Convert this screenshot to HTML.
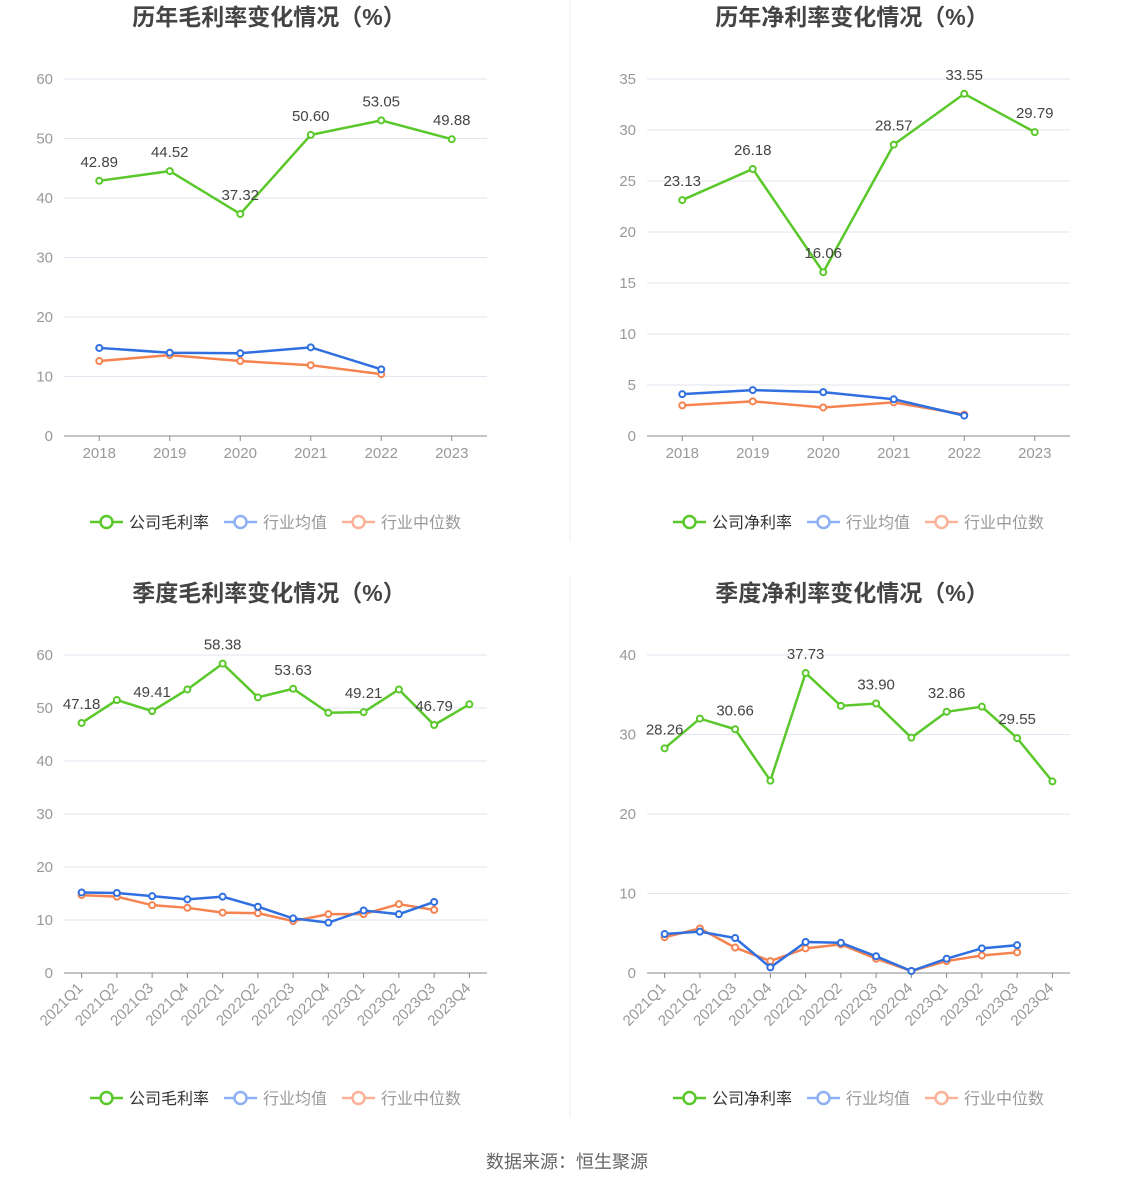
<!DOCTYPE html>
<html><head><meta charset="utf-8"><style>
body{margin:0;background:#fff;font-family:"Liberation Sans","Noto Sans CJK SC",sans-serif;}
svg text{font-family:"Liberation Sans","Noto Sans CJK SC",sans-serif;}
</style></head><body>
<svg id="s" width="1134" height="1188" xmlns="http://www.w3.org/2000/svg">
<line x1="570" y1="0" x2="570" y2="542" stroke="#eee"/>
<line x1="570" y1="575" x2="570" y2="1118" stroke="#eee"/>
<text x="567" y="1168" text-anchor="middle" font-size="18" fill="#666">数据来源：恒生聚源</text>
</svg>
<script>
const yearCats=["2018","2019","2020","2021","2022","2023"];
const qCats=["2021Q1","2021Q2","2021Q3","2021Q4","2022Q1","2022Q2","2022Q3","2022Q4","2023Q1","2023Q2","2023Q3","2023Q4"];
const annGrossCo=[42.89,44.52,37.32,50.60,53.05,49.88];
const annGrossAvg=[14.8,14.0,13.9,14.9,11.2];
const annGrossMed=[12.6,13.6,12.6,11.9,10.4];
const annNetCo=[23.13,26.18,16.06,28.57,33.55,29.79];
const annNetAvg=[4.1,4.5,4.3,3.6,2.0];
const annNetMed=[3.0,3.4,2.8,3.3,2.1];
const qGrossCo=[47.18,51.5,49.41,53.5,58.38,52.0,53.63,49.1,49.21,53.5,46.79,50.7];
const qGrossLabels=[true,false,true,false,true,false,true,false,true,false,true,false];
const qGrossAvg=[15.2,15.1,14.5,13.9,14.4,12.5,10.3,9.5,11.8,11.1,13.4];
const qGrossMed=[14.7,14.4,12.8,12.3,11.4,11.3,9.8,11.1,11.1,13.0,11.9];
const qNetCo=[28.26,32.0,30.66,24.2,37.73,33.6,33.90,29.6,32.86,33.5,29.55,24.1];
const qNetLabels=[true,false,true,false,true,false,true,false,true,false,true,false];
const qNetAvg=[4.9,5.2,4.4,0.7,3.9,3.8,2.1,0.25,1.8,3.1,3.5];
const qNetMed=[4.5,5.6,3.2,1.5,3.1,3.6,1.8,0.25,1.5,2.2,2.6];
const ticksGross=[0,10,20,30,40,50,60];
const ticksNetA=[0,5,10,15,20,25,30,35];
const ticksNetQ=[0,10,20,30,40];

const S=document.getElementById('s');const NS='http://www.w3.org/2000/svg';
function mk(t,a,p){const e=document.createElementNS(NS,t);for(const k in a)e.setAttribute(k,a[k]);(p||S).appendChild(e);return e;}
function chart(o){
 const g=mk('g',{});
 
 
 const x0=o.x0,x1=o.x0+423,yb=o.yb,yt=o.yb-357*(o.h||1);
 const ymax=o.ticks[o.ticks.length-1];
 const Y=v=>yb-(v/ymax)*(yb-yt);
 const bw=(x1-x0)/o.cats.length;const X=i=>x0+bw*(i+0.5);
 const t=mk('text',{x:x0+205,y:o.ty,'text-anchor':'middle','font-size':23,'font-weight':'bold',fill:'#444'},g);t.textContent=o.title;
 
 
 o.ticks.forEach(v=>{
  if(v>0){const l=mk('line',{x1:x0,x2:x1,y1:Y(v),y2:Y(v),stroke:'#e3e6f0'},g);
  
  }
  const tt=mk('text',{x:x0-11,y:Y(v)+5,'text-anchor':'end','font-size':15,fill:'#999'},g);tt.textContent=v;
  
  
 });
 const ax=mk('line',{x1:x0,x2:x1,y1:yb,y2:yb,stroke:'#888'},g);
 
 
 o.cats.forEach((c,i)=>{
  const tk=mk('line',{x1:X(i),x2:X(i),y1:yb,y2:yb+5,stroke:'#888'},g);
  
  
  let tx;
  if(o.rot){tx=mk('text',{x:X(i)+2,y:yb+16,'text-anchor':'end','font-size':15,fill:'#999',transform:`rotate(-45 ${X(i)+2} ${yb+16})`},g);}
  else tx=mk('text',{x:X(i),y:yb+22,'text-anchor':'middle','font-size':15,fill:'#999'},g);
  tx.textContent=c;
  
  
 });
 const series=[[o.med,'#f5834f','industry-median-line'],[o.avg,'#2f6fe0','industry-average-line'],[o.co,'#5ac82a','company-line']];
 series.forEach(([d,c,n])=>{
  const p=mk('polyline',{points:d.map((v,i)=>X(i)+','+Y(v)).join(' '),fill:'none',stroke:c,'stroke-width':2.5},g);
  
  
  d.forEach((v,i)=>{const ci=mk('circle',{cx:X(i),cy:Y(v),r:3,fill:'#fff',stroke:c,'stroke-width':2},g);
   
   });
 });
 o.co.forEach((v,i)=>{if(o.lab&&!o.lab[i])return;
  const l=mk('text',{x:X(i),y:Y(v)-14,'text-anchor':'middle','font-size':15,fill:'#444'},g);l.textContent=v.toFixed(2);
  
  });
 const leg=[[o.coName,'#5ac82a','#333'],['行业均值','#8fb1f3','#999'],['行业中位数','#fbb197','#999']];
 let lx=x0+26;
 leg.forEach(([n,c,tc])=>{
  const lg=mk('g',{},g);
  
  
  mk('line',{x1:lx,x2:lx+33,y1:o.ly,y2:o.ly,stroke:c,'stroke-width':2.5},lg);
  mk('circle',{cx:lx+16.5,cy:o.ly,r:6,fill:'#fff',stroke:c,'stroke-width':2.5},lg);
  const tt=mk('text',{x:lx+39,y:o.ly+6,'font-size':16,fill:tc},lg);tt.textContent=n;
  lx+=39+n.length*16+15;
 });
}
chart({name:'annual-gross-margin-chart',title:'历年毛利率变化情况（%）',x0:64,yb:436,ty:25,ticks:ticksGross,cats:yearCats,co:annGrossCo,avg:annGrossAvg,med:annGrossMed,ly:522,coName:'公司毛利率'});
chart({name:'annual-net-margin-chart',title:'历年净利率变化情况（%）',x0:647,yb:436,ty:25,ticks:ticksNetA,cats:yearCats,co:annNetCo,avg:annNetAvg,med:annNetMed,ly:522,coName:'公司净利率'});
chart({name:'quarterly-gross-margin-chart',title:'季度毛利率变化情况（%）',x0:64,yb:973,ty:601,h:318/357,ticks:ticksGross,cats:qCats,co:qGrossCo,lab:qGrossLabels,avg:qGrossAvg,med:qGrossMed,ly:1098,rot:true,coName:'公司毛利率'});
chart({name:'quarterly-net-margin-chart',title:'季度净利率变化情况（%）',x0:647,yb:973,ty:601,h:318/357,ticks:ticksNetQ,cats:qCats,co:qNetCo,lab:qNetLabels,avg:qNetAvg,med:qNetMed,ly:1098,rot:true,coName:'公司净利率'});
</script>
</body></html>
